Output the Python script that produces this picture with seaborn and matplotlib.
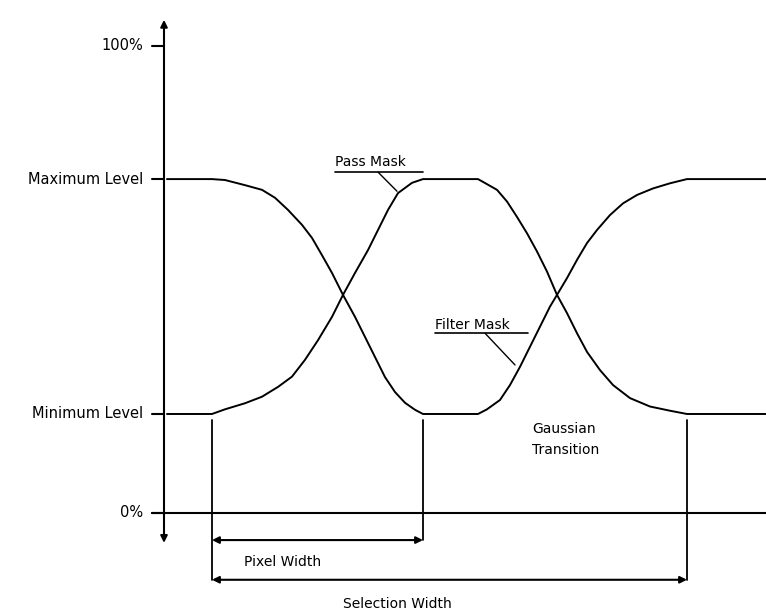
import pandas as pd
import matplotlib
matplotlib.use("Agg")
import matplotlib.pyplot as plt
import seaborn as sns

# level axis (percent)
level_values = [100, 71.5, 21.2, 0]
level_labels = ["100%", "Maximum Level", "Minimum Level", "0%"]

# pass mask
pass_x = [3, 48, 61, 81, 98, 114, 128, 141, 154, 168, 179, 191, 204, 214, 224, 234, 248, 259,
          314, 319, 333, 343, 353, 363, 373, 383, 393, 403, 413, 423, 436, 449, 466, 486, 506, 523, 602]
pass_y = [21.2, 21.2, 22.2, 23.5, 24.9, 27.0, 29.2, 32.8, 37.0, 42.0, 46.7, 51.4, 56.3, 60.6, 64.9, 68.5, 70.7, 71.5,
          71.5, 70.9, 69.2, 66.7, 63.4, 59.9, 56.0, 51.7, 46.7, 42.8, 38.5, 34.5, 30.6, 27.4, 24.6, 22.8, 21.9, 21.2, 21.2]

# filter mask
filter_x = [3, 48, 61, 81, 98, 111, 124, 138, 148, 158, 168, 179, 191, 201, 211, 221, 231, 241, 251, 259,
            314, 323, 336, 346, 356, 366, 376, 386, 393, 403, 413, 423, 433, 446, 459, 473, 489, 506, 523, 602]
filter_y = [71.5, 71.5, 71.3, 70.2, 69.2, 67.5, 64.9, 61.7, 58.9, 55.2, 51.4, 46.7, 42.0, 37.7, 33.4, 29.1, 25.9, 23.6, 22.1, 21.2,
            21.2, 22.2, 24.2, 27.4, 31.3, 35.6, 39.9, 44.2, 46.7, 50.3, 54.2, 57.8, 60.6, 63.8, 66.3, 68.1, 69.5, 70.6, 71.5, 71.5]

# widths
pixel_width = (48, 259)
selection_width = (48, 523)

df = pd.concat([
    pd.DataFrame({"x": pass_x, "y": pass_y, "mask": "Pass Mask"}),
    pd.DataFrame({"x": filter_x, "y": filter_y, "mask": "Filter Mask"}),
])

sns.set_style("white")
plt.rcParams['font.family'] = ['DejaVu Sans']
plt.rcParams['text.color'] = 'black'

fig = plt.figure(figsize=(7.66, 6.14), dpi=100)
ax = fig.add_axes([0, 0, 1, 1])

sns.lineplot(data=df, x="x", y="y", units="mask", estimator=None, sort=False,
             color="black", linewidth=1.4, ax=ax)
for ln in ax.lines:
    ln.set_solid_joinstyle("round")

arrow = dict(color="black", lw=1.5, mutation_scale=10, shrinkA=0, shrinkB=0)

# vertical level axis with arrows both ends
ax.annotate("", xy=(0, 105.6), xytext=(0, -6.4), arrowprops=dict(arrowstyle="<|-|>", **arrow))

for v, lab in zip(level_values, level_labels):
    ax.plot([-12, 0], [v, v], color="black", lw=1.5)
    ax.text(-21, v, lab, ha="right", va="center", fontsize=10.5, color="black")

# 0% baseline
ax.plot([-12, 602], [0, 0], color="black", lw=1.5)

# dimension lines
ax.plot([pixel_width[0]] * 2, [19.9, -14.3], color="black", lw=1.3)
ax.plot([pixel_width[1]] * 2, [19.9, -5.8], color="black", lw=1.3)
ax.plot([selection_width[1]] * 2, [19.9, -14.3], color="black", lw=1.3)
ax.annotate("", xy=(pixel_width[0], -5.8), xytext=(pixel_width[1], -5.8),
            arrowprops=dict(arrowstyle="<|-|>", **arrow))
ax.annotate("", xy=(selection_width[0], -14.3), xytext=(selection_width[1], -14.3),
            arrowprops=dict(arrowstyle="<|-|>", **arrow))
ax.text(119, -10.5, "Pixel Width", ha="center", va="center", fontsize=10, color="black")
ax.text(233, -19.5, "Selection Width", ha="center", va="center", fontsize=10, color="black")

# mask labels with underline and leader
ax.text(171, 75.2, "Pass Mask", ha="left", va="center", fontsize=10, color="black")
ax.plot([171, 259], [73.0, 73.0], color="black", lw=1.2)
ax.plot([214, 233], [73.0, 68.9], color="black", lw=1)

ax.text(271, 40.3, "Filter Mask", ha="left", va="center", fontsize=10, color="black")
ax.plot([271, 364], [38.5, 38.5], color="black", lw=1.2)
ax.plot([321, 351], [38.5, 31.7], color="black", lw=1)

ax.text(368, 15.8, "Gaussian\nTransition", ha="left", va="center", fontsize=10,
        linespacing=1.6, color="black")

ax.set_xlim(-164, 602)
ax.set_ylim(-21.63, 109.85)
ax.axis("off")

plt.savefig("out.png", dpi=100)
